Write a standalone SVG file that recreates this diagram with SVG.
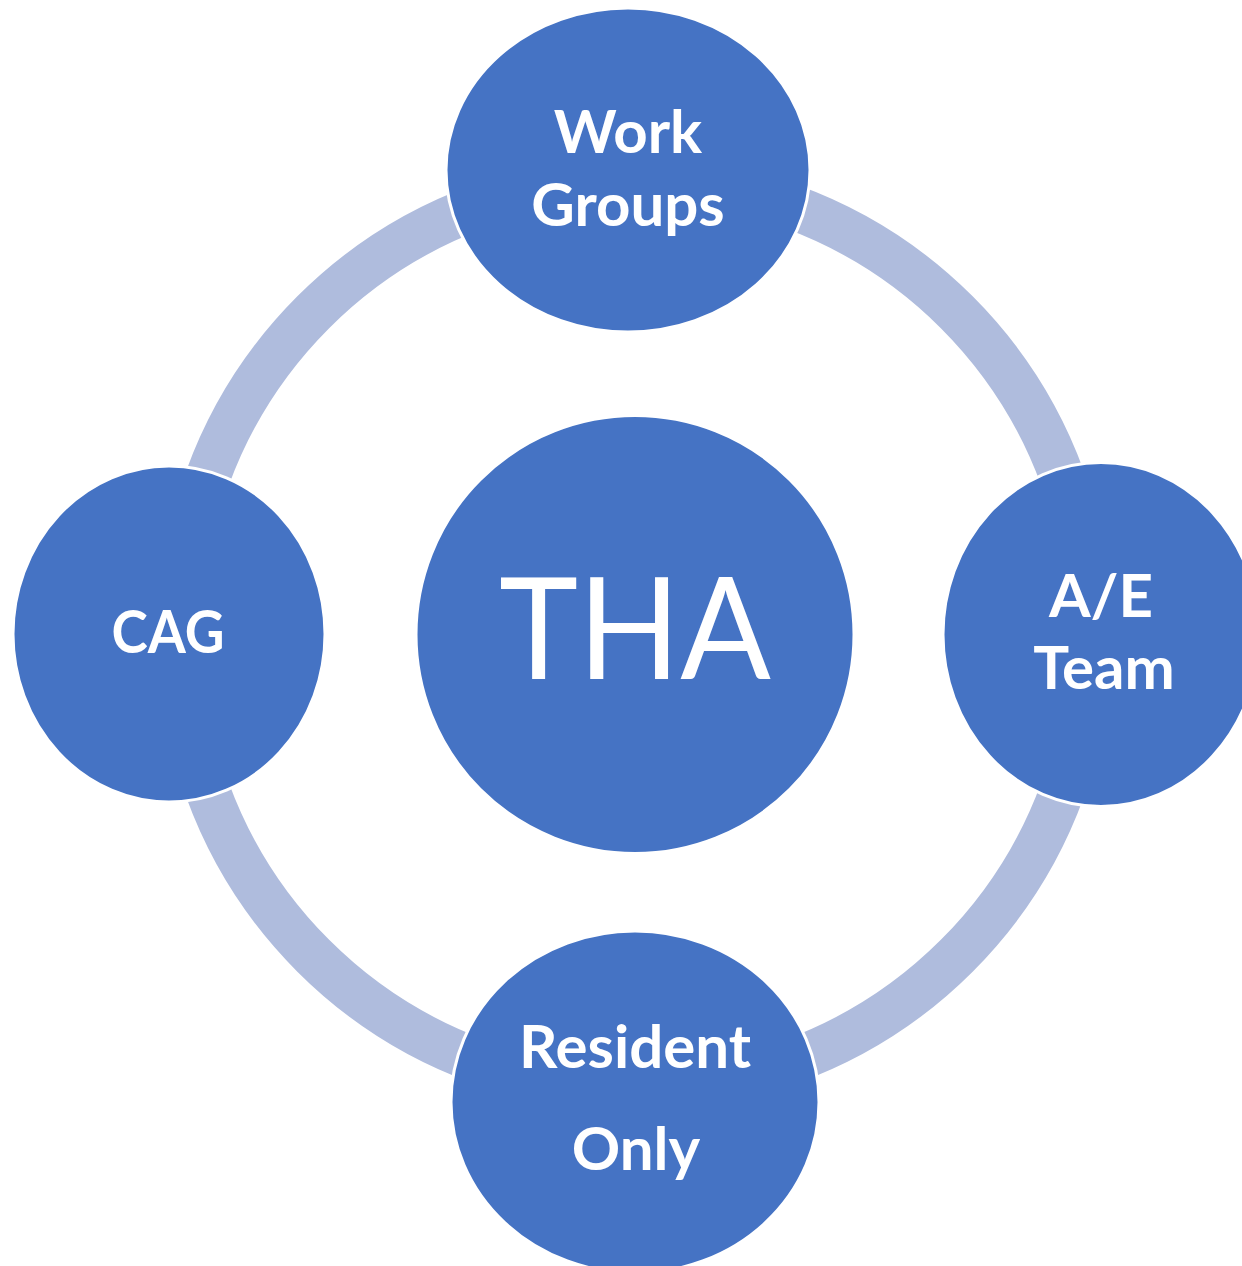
<svg xmlns="http://www.w3.org/2000/svg" width="1242" height="1266" viewBox="0 0 1242 1266">
<style>
.node{fill:#4573C4;stroke:#FFFFFF;stroke-width:3}
.lbl{fill:#FFFFFF;font-family:Lato,"Open Sans","Liberation Sans",sans-serif;font-weight:bold;font-size:60px;text-anchor:middle}
.big{fill:#FFFFFF;font-family:Lato,"Open Sans","Liberation Sans",sans-serif;font-size:142px;text-anchor:middle}
.arc{fill:none;stroke:#AFBCDD;stroke-width:45}
</style>
<rect width="1242" height="1266" fill="#FFFFFF"/>
<g id="connectors">
<path class="arc" d="M 790.6 206.4 A 455 455 0 0 1 1062.6 478.4"/>
<path class="arc" d="M 1062.6 789.6 A 455 455 0 0 1 790.6 1061.6"/>
<path class="arc" d="M 479.4 1061.6 A 455 455 0 0 1 207.4 789.6"/>
<path class="arc" d="M 207.4 478.4 A 455 455 0 0 1 479.4 206.4"/>
</g>
<g id="node-work-groups">
<ellipse class="node" cx="628" cy="170" rx="182" ry="162"/>
<text class="lbl" x="628" y="153">Work</text>
<text class="lbl" x="628" y="226">Groups</text>
</g>
<g id="node-cag">
<ellipse class="node" cx="169" cy="634" rx="156" ry="168"/>
<text class="lbl" x="168" y="653" textLength="113" lengthAdjust="spacingAndGlyphs">CAG</text>
</g>
<g id="node-ae-team">
<ellipse class="node" cx="1101" cy="634.5" rx="158" ry="172"/>
<text class="lbl" x="1101" y="617">A/E</text>
<text class="lbl" x="1104" y="689">Team</text>
</g>
<g id="node-resident-only">
<ellipse class="node" cx="635" cy="1102" rx="184" ry="171"/>
<text class="lbl" x="635" y="1068">Resident</text>
<text class="lbl" x="636" y="1170">Only</text>
</g>
<g id="node-tha">
<circle class="node" cx="635" cy="634.5" r="219"/>
<text class="big" x="635" y="679" textLength="272" lengthAdjust="spacingAndGlyphs">THA</text>
</g>
</svg>
